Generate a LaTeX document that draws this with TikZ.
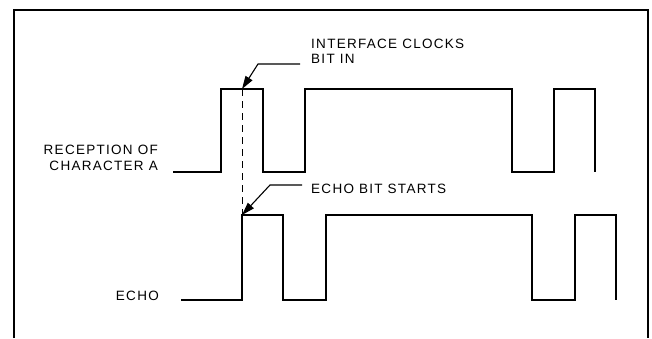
\documentclass[tikz,border=0pt]{standalone}
\usepackage{fontspec}
\setmainfont{Liberation Sans}[LetterSpace=9.5]
\usetikzlibrary{arrows.meta}
\tikzset{
  sig/.style={line width=1.8pt, line join=miter},
  frame/.style={line width=2.2pt},
  lbl/.style={inner sep=0pt, font=\fontsize{13.5}{16.5}\selectfont},
  leader/.style={line width=1.1pt, -{Triangle[length=13pt,width=8pt]}},
  guide/.style={line width=1pt, dash pattern=on 7pt off 5pt}
}
\begin{document}
\begin{tikzpicture}[x=1pt,y=-1pt]
\useasboundingbox (0,0) rectangle (652,338);
% frame, open at the bottom
\draw[frame] (14,338) -- (14,10) -- (648,10) -- (648,338);

% upper trace: reception of character A
\coordinate (u0) at (173,172);
\coordinate (uend) at (595,172);
\draw[sig] (u0) -- (221,172) -- (221,89) -- (263,89) -- (263,172) -- (305,172)
  -- (305,89) -- (512,89) -- (512,172) -- (554,172) -- (554,89) -- (595,89) -- (uend);

% lower trace: echo
\coordinate (e0) at (181,300);
\coordinate (eend) at (616,300);
\draw[sig] (e0) -- (242,300) -- (242,215) -- (283,215) -- (283,300) -- (326,300)
  -- (326,215) -- (532,215) -- (532,300) -- (575,300) -- (575,215) -- (616,215) -- (eend);

% dashed alignment line
\coordinate (dtop) at (242,89);
\coordinate (dbot) at (242,215);
\draw[guide] (dtop) -- (dbot);

% labels
\node[lbl, anchor=base east, align=right] (rec) at (158,170.5) {RECEPTION OF\\CHARACTER A};
\node[lbl, anchor=base east] (echo) at (159,300) {ECHO};
\node[lbl, anchor=base west, align=left, font=\fontsize{13.5}{15}\selectfont] (clk) at (311,63.5) {INTERFACE CLOCKS\\BIT IN};
\node[lbl, anchor=base west] (ebs) at (311,193) {ECHO BIT STARTS};

% leaders with arrows
\coordinate (c1) at (300,64);
\coordinate (c1b) at (258,64);
\draw[leader] (c1) -- (c1b) -- (dtop);
\coordinate (c2) at (302,185);
\coordinate (c2b) at (270,185);
\draw[leader] (c2) -- (c2b) -- (dbot);
\end{tikzpicture}
\end{document}
